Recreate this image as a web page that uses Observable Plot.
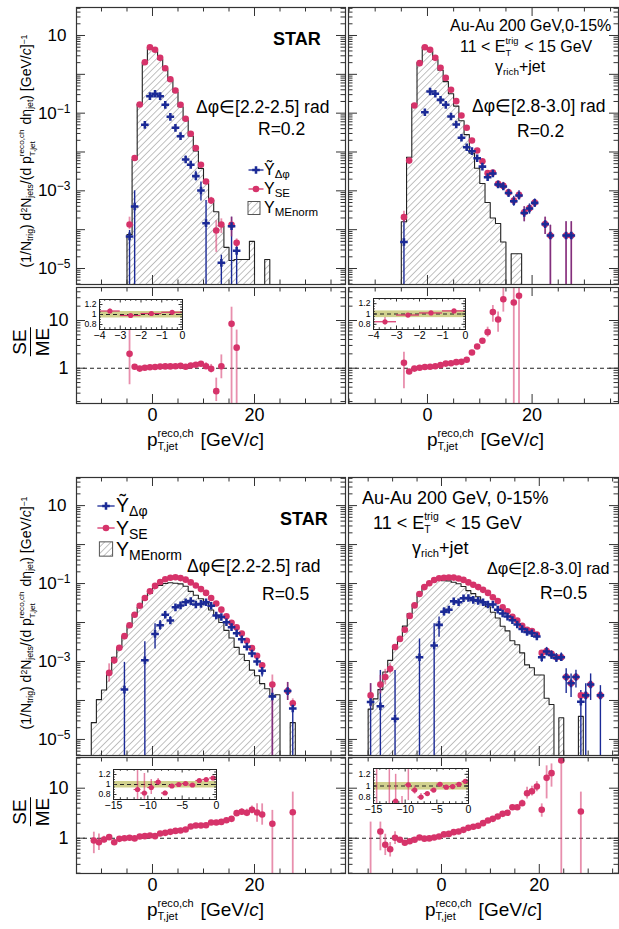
<!DOCTYPE html>
<html><head><meta charset="utf-8">
<script src="https://cdn.jsdelivr.net/npm/d3@7"></script>
<script src="https://cdn.jsdelivr.net/npm/@observablehq/plot@0.6"></script>
<style>
body{margin:0;background:#fff;}
#root{position:relative;width:619px;height:929px;overflow:hidden;font-family:'Liberation Sans',Arial,Helvetica,sans-serif;color:#000;background:#fff}
.t{position:absolute;white-space:nowrap;line-height:1;transform:translateY(-50%)}
.rot{position:absolute;white-space:nowrap;line-height:1;transform:translate(-50%,-50%) rotate(-90deg)}
.sb{font-size:.62em;line-height:0;vertical-align:-0.26em}
.lg .sb{font-size:.72em;vertical-align:-0.3em}
.sp{font-size:.62em;line-height:0;vertical-align:0.47em}
.ss{display:inline-block;position:relative;line-height:0;height:0;font-size:.58em;vertical-align:baseline}
.ss .w{visibility:hidden;padding-right:.15em}
.ss .a{position:absolute;left:0;line-height:1;white-space:nowrap}
.ss .up{top:-1.31em}
.ss .dn{top:-0.05em}
</style></head>
<body>
<svg width="0" height="0" style="position:absolute;width:0;height:0"><defs>
<pattern id="hatch" patternUnits="userSpaceOnUse" width="4.6" height="4.6" patternTransform="rotate(45)">
<line x1="0" y1="0" x2="0" y2="4.6" stroke="#5a5a5a" stroke-width="0.75"/></pattern></defs></svg>
<div id="root"></div>
<script>
// ---------------- DATA ----------------
// bins: [pT center, value, errLow, errHigh]
const SE_TL = [[-4.5,1.36e-4,1.0e-4,2.1e-4],[-3.5,7.0e-3],[-2.5,0.167],[-1.5,2.05],[-0.5,5.0],[0.5,4.28],[1.5,2.66],[2.5,1.44],[3.5,0.75],[4.5,0.384],[5.5,0.164],[6.5,0.0715],[7.5,0.0294],[8.5,0.0126],[9.5,4.7e-3],[10.5,1.74e-3],[11.5,5.6e-4,4.6e-4,6.8e-4],[12.5,9.5e-5,2.6e-5,1.7e-4],[13.5,1.36e-4,8e-5,1.9e-4],[15.5,1.33e-4,6.5e-5,2.1e-4],[16.5,4.6e-5,3.5e-5,5.8e-5]];
const YT_TL = [[-4.5,6.7e-5,1e-9,9.5e-5],[-3.5,3.95e-4,1e-9,1.0e-3],[-1.5,0.050],[-0.5,0.274],[0.5,0.315],[1.5,0.274],[2.5,0.164],[3.5,0.0805],[4.5,0.0419],[5.5,0.0256],[6.5,6.4e-3,5.2e-3,7.8e-3],[7.5,4.67e-3,3.8e-3,5.8e-3],[8.5,2.39e-3,1.8e-3,3.2e-3],[9.5,1.02e-3,5.5e-4,1.7e-3],[10.5,1.47e-4,1e-9,5.6e-4],[13.5,1.4e-5,1e-9,2.2e-5],[15.5,1.23e-4,1e-9,2.1e-4],[16.5,2.85e-5,1e-9,4e-5]];
const ME_TL = [[-4.5,7.5e-5],[-3.5,6.5e-3],[-2.5,0.172],[-1.5,2.0],[-0.5,4.8],[0.5,4.04],[1.5,2.46],[2.5,1.32],[3.5,0.69],[4.5,0.35],[5.5,0.146],[6.5,0.067],[7.5,0.0258],[8.5,0.0106],[9.5,3.77e-3],[10.5,1.58e-3],[11.5,5.8e-4],[12.5,2.9e-4],[13.5,1.24e-4],[14.5,3.5e-5],[15.5,1.6e-5],[16.5,1.7e-5],[17.5,1.7e-5],[18.5,1.7e-5],[19.5,5e-5],[20.5,0],[21.5,0],[22.5,1.7e-5]];
const R_TL = [[-4.5,2.0,0.45,6.2],[-3.5,1.07,1.03,1.11],[-2.5,0.98],[-1.5,1.02],[-0.5,1.045],[0.5,1.06],[1.5,1.08],[2.5,1.09],[3.5,1.09],[4.5,1.10],[5.5,1.12],[6.5,1.07],[7.5,1.14],[8.5,1.18],[9.5,1.24],[10.5,1.1,0.95,1.3],[11.5,0.97,0.8,1.2],[12.5,0.33,0.2,0.62],[13.5,1.1,0.6,1.9],[15.5,8.5,0.01,19],[16.5,2.7,0.01,6.3]];

const SE_TR = [[-4.5,2.1e-4,1.5e-4,3.0e-4],[-3.5,6.0e-3],[-2.5,0.157],[-1.5,1.94],[-0.5,5.0],[0.5,4.28],[1.5,2.66],[2.5,1.47],[3.5,0.81],[4.5,0.40],[5.5,0.204],[6.5,0.087],[7.5,0.042],[8.5,0.0198],[9.5,0.0109],[10.5,5.8e-3],[11.5,2.85e-3],[12.5,2.97e-3],[13.5,1.51e-3],[14.5,1.34e-3],[15.5,9.1e-4],[16.5,5.6e-4],[17.5,7.9e-4],[18.5,2.82e-4,1.6e-4,3.9e-4],[19.5,3.58e-4],[20.5,5.0e-4],[22.5,1.39e-4,7.5e-5,2.1e-4],[23.5,7.1e-5,1e-9,1.3e-4],[26.5,7.1e-5,1e-9,1.6e-4],[27.5,7.1e-5,1e-9,1.6e-4]];
const YT_TR = [[-4.5,4.8e-5,1e-9,2.1e-4],[-0.5,0.106],[0.5,0.361],[1.5,0.315],[2.5,0.22],[3.5,0.164],[4.5,0.082],[5.5,0.051],[6.5,0.0232],[7.5,0.0133],[8.5,0.0105],[9.5,6.9e-3],[10.5,4.2e-3],[11.5,2.25e-3,1.9e-3,2.7e-3],[12.5,2.8e-3,2.3e-3,3.4e-3],[13.5,1.45e-3,1.2e-3,1.8e-3],[14.5,1.3e-3,1.05e-3,1.65e-3],[15.5,8.8e-4,6.8e-4,1.1e-3],[16.5,5.4e-4,4.0e-4,7.2e-4],[17.5,7.6e-4,5.8e-4,1.0e-3],[18.5,2.7e-4,1.6e-4,3.9e-4],[19.5,3.5e-4,2.5e-4,4.6e-4],[20.5,4.9e-4,3.8e-4,6.2e-4],[22.5,1.39e-4,7.5e-5,2.1e-4],[23.5,7.1e-5,1e-9,1.3e-4],[26.5,7.1e-5,1e-9,1.6e-4],[27.5,7.1e-5,1e-9,1.6e-4]];
const ME_TR = [[-4.5,1.6e-4],[-3.5,7.3e-3],[-2.5,0.17],[-1.5,2.0],[-0.5,5.1],[0.5,4.0],[1.5,2.42],[2.5,1.27],[3.5,0.65],[4.5,0.315],[5.5,0.152],[6.5,0.064],[7.5,0.028],[8.5,9.3e-3],[9.5,3.8e-3],[10.5,1.55e-3],[11.5,5.0e-4],[12.5,2.0e-4],[13.5,1.44e-4],[14.5,4.8e-5],[15.5,0],[16.5,2.4e-5],[17.5,2.4e-5]];
const R_TR = [[-4.5,1.30,0.37,2.17],[-3.5,0.85,0.78,0.93],[-2.5,0.98],[-1.5,1.02],[-0.5,1.06],[0.5,1.07],[1.5,1.10],[2.5,1.16],[3.5,1.25],[4.5,1.27],[5.5,1.34],[6.5,1.36],[7.5,1.50],[8.5,2.13],[9.5,2.85],[10.5,3.75],[11.5,5.7,4.47,7.25],[12.5,15,9.2,20.6],[13.5,10.5,5.7,15],[14.5,28,15,80],[16.5,23.8,0.01,100],[17.5,33,0.01,100]];

const SE_BL = [[-8.5,5.1e-4,2.95e-4,8.7e-4],[-7.5,1.07e-3,8.5e-4,1.3e-3],[-6.5,2.24e-3],[-5.5,4.47e-3],[-4.5,8.5e-3],[-3.5,0.0158],[-2.5,0.0269],[-1.5,0.0427],[-0.5,0.063],[0.5,0.087],[1.5,0.110],[2.5,0.129],[3.5,0.141],[4.5,0.145],[5.5,0.138],[6.5,0.126],[7.5,0.107],[8.5,0.089],[9.5,0.072],[10.5,0.0575],[11.5,0.0427],[12.5,0.0309],[13.5,0.0214],[14.5,0.0145],[15.5,9.8e-3],[16.5,7.5e-3],[17.5,5.2e-3],[18.5,3.4e-3],[19.5,2.2e-3],[20.5,1.4e-3],[21.5,8.0e-4],[23.5,2.57e-4,1e-9,4.5e-4],[26.5,1.74e-4,1.0e-4,2.9e-4],[27.5,8.5e-5,6e-5,1.1e-4]];
const YT_BL = [[-5.5,1.9e-4,1e-9,9.5e-4],[-1.5,1.07e-3,1e-9,3.2e-3],[0.5,5.1e-3,2.1e-3,9.3e-3],[1.5,8.5e-3,6.3e-3,1.12e-2],[2.5,0.0158,0.0132,0.0188],[3.5,0.0113,0.009,0.014],[4.5,0.0245],[5.5,0.0275],[6.5,0.033],[7.5,0.0355],[8.5,0.029],[9.5,0.030],[10.5,0.033],[11.5,0.027],[12.5,0.0151],[13.5,0.0138],[14.5,0.0102],[15.5,7.6e-3],[16.5,5.3e-3],[17.5,3.7e-3],[18.5,2.4e-3],[19.5,1.6e-3],[20.5,1.0e-3,7.5e-4,1.35e-3],[21.5,5.8e-4,4e-4,8e-4],[23.5,1.26e-4,1e-9,2.2e-4],[26.5,1.74e-4,1.0e-4,2.9e-4],[27.5,6.2e-5,1e-9,1.0e-4]];
const ME_BL = [[-11.5,2.7e-5],[-10.5,1.05e-4],[-9.5,1.86e-4],[-8.5,4.9e-4],[-7.5,1.29e-3],[-6.5,2.29e-3],[-5.5,4.47e-3],[-4.5,8.3e-3],[-3.5,0.0162],[-2.5,0.0251],[-1.5,0.0389],[-0.5,0.0562],[0.5,0.0794],[1.5,0.089],[2.5,0.100],[3.5,0.105],[4.5,0.102],[5.5,0.098],[6.5,0.085],[7.5,0.063],[8.5,0.050],[9.5,0.0407],[10.5,0.0316],[11.5,0.0209],[12.5,0.0151],[13.5,0.0100],[14.5,6.3e-3],[15.5,4.0e-3],[16.5,2.3e-3],[17.5,1.54e-3],[18.5,1.06e-3],[19.5,6.0e-4],[20.5,4.3e-4],[21.5,2.7e-4],[22.5,2.0e-4],[23.5,1.32e-4],[24.5,1.4e-4],[25.5,0],[26.5,0],[27.5,2.7e-5]];
const R_BL = [[-11.5,0.90,0.49,1.32],[-10.5,0.83,0.57,1.22],[-9.5,0.94,0.8,1.1],[-8.5,1.05,0.99,1.12],[-7.5,0.83,0.79,0.87],[-6.5,0.97],[-5.5,1.0],[-4.5,1.02],[-3.5,0.99],[-2.5,1.08],[-1.5,1.10],[-0.5,1.13],[0.5,1.10],[1.5,1.24],[2.5,1.28],[3.5,1.34],[4.5,1.40],[5.5,1.43],[6.5,1.49],[7.5,1.71],[8.5,1.79],[9.5,1.79],[10.5,1.82],[11.5,2.06],[12.5,2.06],[13.5,2.12],[14.5,2.29],[15.5,2.44],[16.5,3.17,2.8,3.6],[17.5,3.37,2.9,3.9],[18.5,3.22,2.7,3.8],[19.5,3.69,3.1,4.4],[20.5,3.27,2.09,4.86],[21.5,2.98,1.82,4.86],[23.5,1.94,0.01,3.6],[27.5,3.31,0.01,8.35]];

const SE_BR = [[-14.5,1.35e-4,6.8e-5,2.7e-4],[-12.5,2.57e-4,1.48e-4,4.4e-4],[-11.5,4.0e-4,2.5e-4,6.3e-4],[-10.5,6.5e-4,4.8e-4,8.7e-4],[-9.5,2.34e-3],[-8.5,3.8e-3],[-7.5,6.5e-3],[-6.5,0.0148],[-5.5,0.0275],[-4.5,0.054],[-3.5,0.081],[-2.5,0.102],[-1.5,0.123],[-0.5,0.137],[0.5,0.141],[1.5,0.143],[2.5,0.142],[3.5,0.135],[4.5,0.124],[5.5,0.107],[6.5,0.093],[7.5,0.081],[8.5,0.069],[9.5,0.0575],[10.5,0.0447],[11.5,0.0355],[12.5,0.0245],[13.5,0.0195],[14.5,0.0141],[15.5,0.0112],[16.5,8.3e-3],[17.5,6.5e-3],[18.5,6.0e-3],[19.5,4.9e-3],[20.5,1.66e-3],[21.5,1.84e-3],[22.5,1.58e-3],[23.5,1.29e-3],[24.5,1.29e-3],[25.5,4.0e-4],[26.5,2.75e-4],[27.5,4.0e-4],[28.5,1.35e-4],[29.5,1.35e-4],[30.5,2.57e-4],[32.5,1.35e-4]];
const YT_BR = [[-14.5,9.1e-5,1e-9,2.7e-4],[-12.5,7.1e-5,1e-9,5.9e-4],[-9.5,3.4e-5,1e-9,5.9e-4],[-4.5,1.29e-3,1e-9,3.8e-3],[-1.5,2.57e-3,1e-9,9.3e-3],[-0.5,8.7e-3,4.2e-3,0.0138],[0.5,0.019,0.015,0.024],[1.5,0.0214],[2.5,0.035],[3.5,0.033],[4.5,0.042],[5.5,0.0425],[6.5,0.038],[7.5,0.036],[8.5,0.033],[9.5,0.029],[10.5,0.029],[11.5,0.0214],[12.5,0.017],[13.5,0.0142],[14.5,0.0115],[15.5,8.9e-3],[16.5,6.8e-3],[17.5,5.7e-3],[18.5,5.3e-3],[19.5,4.4e-3],[20.5,1.29e-3,9.5e-4,1.7e-3],[21.5,1.8e-3,1.4e-3,2.3e-3],[22.5,1.48e-3,1.15e-3,1.9e-3],[23.5,1.23e-3,9.5e-4,1.6e-3],[24.5,1.29e-3,1.0e-3,1.65e-3],[25.5,4.0e-4,1.5e-4,6.5e-4],[26.5,2.75e-4,1.2e-4,4.8e-4],[27.5,4.0e-4,2.1e-4,6.0e-4],[28.5,9.3e-5,1e-9,1.8e-4],[29.5,1.35e-4,1e-9,2.7e-4],[30.5,2.57e-4,1e-4,4.8e-4],[32.5,1.35e-4,1e-9,2.4e-4]];
const ME_BR = [[-14.5,6e-5],[-13.5,1.1e-4],[-12.5,1.9e-4],[-11.5,5.4e-4],[-10.5,1.07e-3],[-9.5,2.34e-3],[-8.5,4.1e-3],[-7.5,8.1e-3],[-6.5,0.017],[-5.5,0.0295],[-4.5,0.055],[-3.5,0.085],[-2.5,0.105],[-1.5,0.120],[-0.5,0.127],[0.5,0.118],[1.5,0.117],[2.5,0.108],[3.5,0.099],[4.5,0.084],[5.5,0.066],[6.5,0.055],[7.5,0.046],[8.5,0.0345],[9.5,0.0254],[10.5,0.0183],[11.5,0.0131],[12.5,8.0e-3],[13.5,6.1e-3],[14.5,3.4e-3],[15.5,2.7e-3],[16.5,1.66e-3],[17.5,8.2e-4],[18.5,6.9e-4],[19.5,4.5e-4],[20.5,4.5e-4],[21.5,1.14e-4],[22.5,7.9e-5],[23.5,0],[24.5,3.6e-5],[25.5,0],[26.5,0],[27.5,0],[28.5,3.9e-5]];
const R_BR = [[-14.5,0.1,0.01,2.1],[-12.5,1.36,0.56,2.1],[-11.5,0.74,0.45,1.2],[-10.5,0.60,0.42,0.82],[-9.5,1.02,0.75,1.35],[-8.5,0.93,0.86,1.0],[-7.5,0.81,0.76,0.87],[-6.5,0.87],[-5.5,0.93],[-4.5,1.03],[-3.5,0.98],[-2.5,0.99],[-1.5,1.03],[-0.5,1.08],[0.5,1.19],[1.5,1.22],[2.5,1.32],[3.5,1.36],[4.5,1.47],[5.5,1.61],[6.5,1.69],[7.5,1.77],[8.5,2.0],[9.5,2.26],[10.5,2.44],[11.5,2.72],[12.5,3.07],[13.5,3.22],[14.5,4.17],[15.5,4.17],[16.5,5.0,4.3,5.8],[17.5,7.95,6.1,10.5],[18.5,8.7,7.0,11],[19.5,10.8,8.5,13.5],[20.5,3.7,2.63,4.86],[21.5,16.1,6.1,28],[22.5,20,10.5,30.6],[24.5,35.8,0.01,100],[28.5,3.42,0.01,8.35]];

// systematic band of the insets
const BAND = [0.93, 1.06];
// tick labels
const MAIN_Y_LABELS = [10, 1e-1, 1e-3, 1e-5];
const RATIO_Y_LABELS = [1, 10];
const X_LABELS = [0, 20];
const INSET_Y_LABELS = [0.8, 1, 1.2];
const INSET_X_LABELS_R02 = [-4, -3, -2, -1, 0];
const INSET_X_LABELS_R05 = [-15, -10, -5, 0];

// ---------------- STYLE ----------------
const FONT = "'Liberation Sans', Arial, Helvetica, sans-serif";
const BLUE = "#1b2a96", PINK = "#d6336a";
const NS = "http://www.w3.org/2000/svg";
const root = document.getElementById("root");

function place(svg, left, top) {
  svg.style.position = "absolute"; svg.style.left = left + "px"; svg.style.top = top + "px";
  svg.style.background = "transparent"; svg.style.overflow = "visible";
  svg.style.fontFamily = FONT; svg.style.maxWidth = "none";
  root.appendChild(svg);
}
function inDom(vals, dom) { const a = Math.min(...dom), b = Math.max(...dom); return vals.filter(v => v >= a && v <= b); }
function logTicks(dom) {
  const maj = [], min = [];
  for (let e = -8; e <= 3; e++) for (let m = 1; m <= 9; m++) {
    const v = m * Math.pow(10, e);
    if (v >= dom[0] && v <= dom[1]) (m === 1 ? maj : min).push(v);
  }
  return {maj, min};
}
function mkTicks(fw, fh, xMaj, xMin, yMaj, yMin, maj, min) {
  const s = {stroke: "#333", strokeWidth: 1};
  const out = [];
  const add = (vals, L, isX) => {
    if (!vals.length) return;
    if (isX) {
      out.push(Plot.tickX(vals, {x: d => d, insetTop: fh - L, ...s}));
      out.push(Plot.tickX(vals, {x: d => d, insetBottom: fh - L, ...s}));
    } else {
      out.push(Plot.tickY(vals, {y: d => d, insetRight: fw - L, ...s}));
      out.push(Plot.tickY(vals, {y: d => d, insetLeft: fw - L, ...s}));
    }
  };
  add(xMaj, maj, true); add(xMin, min, true); add(yMaj, maj, false); add(yMin, min, false);
  return out;
}
const X_MINOR = [-15, -10, -5, 5, 10, 15, 25, 30, 35];
function expFmt(d) { const e = Math.round(Math.log10(d)); return e === 1 ? "10" : "10^" + (e < 0 ? "\u2212" + (-e) : String(e)); }
function supExp(svg) {
  svg.querySelectorAll("text").forEach(t => {
    const s = t.textContent; const i = s.indexOf("^");
    if (i > 0) {
      t.textContent = s.slice(0, i);
      const ts = document.createElementNS(NS, "tspan");
      ts.setAttribute("dy", "-0.5em"); ts.setAttribute("font-size", "12"); ts.textContent = s.slice(i + 1);
      t.appendChild(ts);
    } else if (s === "10" && t.closest('[aria-label="y-axis tick label"]')) {
      t.setAttribute("dx", "-4");
    }
  });
}

function mainPanel(o) {
  const fw = o.w - o.mL - o.mR, fh = o.h - o.mT - o.mB;
  const floor = o.yDom[0] / 10;
  const val = d => d[1] > 0 ? d[1] : floor;
  const last = o.me[o.me.length - 1];
  const edges = [{x: o.me[0][0] - 0.5, v: floor}, ...o.me.map(d => ({x: d[0] - 0.5, v: val(d)})),
                 {x: last[0] + 0.5, v: val(last)}, {x: last[0] + 0.5, v: floor}];
  const lt = logTicks(o.yDom);
  const marks = [
    Plot.area(edges, {x1: "x", y1: () => floor, y2: "v", curve: "step-after", fill: "url(#hatch)", clip: true}),
    Plot.line(edges, {x: "x", y: "v", curve: "step-after", stroke: "#222", strokeWidth: 1.1, clip: true}),
    Plot.ruleX(o.blue.filter(d => d.length > 2), {x: d => d[0], y1: d => d[2], y2: d => d[3], stroke: BLUE, strokeWidth: 1.4, clip: true}),
    Plot.ruleX(o.se.filter(d => d.length > 2), {x: d => d[0], y1: d => d[2], y2: d => d[3], stroke: PINK, strokeOpacity: 0.55, strokeWidth: 1.8, clip: true}),
    Plot.dot(o.se, {x: d => d[0], y: d => d[1], r: 3.3, fill: PINK, clip: true}),
    Plot.dot(o.blue, {x: d => d[0], y: d => d[1], r: 3.2, symbol: "cross", fill: BLUE, clip: true}),
    ...mkTicks(fw, fh, inDom(X_LABELS, o.xDom), inDom(X_MINOR, o.xDom), lt.maj, lt.min, 9, 4.5),
    Plot.frame({stroke: "#333", strokeWidth: 1.2})
  ];
  if (o.yLabels) marks.push(Plot.axisY(MAIN_Y_LABELS, {tickSize: 0, tickPadding: 6, fontSize: 17, label: null, tickFormat: expFmt}));
  const svg = Plot.plot({width: o.w, height: o.h, marginLeft: o.mL, marginRight: o.mR, marginTop: o.mT, marginBottom: o.mB,
    x: {domain: o.xDom, axis: null}, y: {type: "log", domain: o.yDom, axis: null}, marks});
  supExp(svg);
  place(svg, o.left, o.top);
}

function ratioPanel(o) {
  const fw = o.w - o.mL - o.mR, fh = o.h - o.mT - o.mB;
  const lt = logTicks(o.yDom);
  const marks = [
    Plot.ruleY([1], {stroke: "#222", strokeDasharray: "4,3", strokeWidth: 1.1}),
    Plot.ruleX(o.ratio.filter(d => d.length > 2), {x: d => d[0], y1: d => d[2], y2: d => d[3], stroke: PINK, strokeOpacity: 0.55, strokeWidth: 1.8, clip: true}),
    Plot.dot(o.ratio, {x: d => d[0], y: d => d[1], r: 3.3, fill: PINK, clip: true}),
    ...mkTicks(fw, fh, inDom(X_LABELS, o.xDom), inDom(X_MINOR, o.xDom), lt.maj, lt.min, 9, 4.5),
    Plot.frame({stroke: "#333", strokeWidth: 1.2}),
    Plot.axisX(X_LABELS, {tickSize: 0, tickPadding: 5, fontSize: 18, label: null, tickFormat: d => String(d)})
  ];
  if (o.yLabels) marks.push(Plot.axisY(RATIO_Y_LABELS, {tickSize: 0, tickPadding: 8, fontSize: 18, label: null, tickFormat: d => String(d)}));
  const svg = Plot.plot({width: o.w, height: o.h, marginLeft: o.mL, marginRight: o.mR, marginTop: o.mT, marginBottom: o.mB,
    x: {domain: o.xDom, axis: null}, y: {type: "log", domain: o.yDom, axis: null}, marks});
  place(svg, o.left, o.top);
}

function insetPanel(o) {
  const fw = o.w - o.mL - o.mR, fh = o.h - o.mT - o.mB;
  const pts = o.ratio.filter(d => d[0] > o.xDom[0] && d[0] < o.xDom[1]);
  const yMin = d3.range(0.7, 1.3001, 0.05).map(v => +v.toFixed(2));
  const marks = [
    Plot.frame({fill: "white", stroke: null}),
    Plot.rect([BAND], {x1: () => o.xDom[0], x2: () => o.xDom[1], y1: d => d[0], y2: d => d[1], fill: "#c9c97a", fillOpacity: 0.85}),
    Plot.ruleY([1], {stroke: "#222", strokeDasharray: "4,3", strokeWidth: 1}),
    Plot.ruleY(pts, {y: d => d[1], x1: d => d[0] - 0.5, x2: d => d[0] + 0.5, stroke: PINK, strokeWidth: 1.2, clip: true}),
    Plot.ruleX(pts.filter(d => d.length > 2), {x: d => d[0], y1: d => d[2], y2: d => d[3], stroke: PINK, strokeOpacity: 0.6, strokeWidth: 1.5, clip: true}),
    Plot.dot(pts, {x: d => d[0], y: d => d[1], r: 2.6, fill: PINK, clip: true}),
    ...mkTicks(fw, fh, o.xLabels, o.xMinor, INSET_Y_LABELS, yMin, 3.5, 1.8),
    Plot.frame({stroke: "#222", strokeWidth: 1}),
    Plot.axisY(INSET_Y_LABELS, {tickSize: 0, tickPadding: 3, fontSize: 8.6, label: null, tickFormat: d => String(d)}),
    Plot.axisX(o.xLabels, {tickSize: 0, tickPadding: 2, fontSize: 10.5, label: null, tickFormat: d => d < 0 ? "\u2212" + (-d) : String(d)})
  ];
  const svg = Plot.plot({width: o.w, height: o.h, marginLeft: o.mL, marginRight: o.mR, marginTop: o.mT, marginBottom: o.mB,
    x: {domain: o.xDom, axis: null}, y: {domain: [0.7, 1.3], axis: null}, marks});
  place(svg, o.left, o.top);
}

// ---------------- PANELS ----------------
const Y_MAIN = [Math.pow(10, -5.412), Math.pow(10, 1.721)];
const X_LEFT = [-14.9, 37.84], X_TR = [-15.1, 36.52], X_BR = [-19.02, 36.2];

mainPanel({left: 0, top: 0, w: 345, h: 285, mL: 76, mR: 0, mT: 7, mB: 1, xDom: X_LEFT, yDom: Y_MAIN, me: ME_TL, se: SE_TL, blue: YT_TL, yLabels: true});
mainPanel({left: 348, top: 0, w: 271, h: 285, mL: 0, mR: 1, mT: 7, mB: 1, xDom: X_TR, yDom: Y_MAIN, me: ME_TR, se: SE_TR, blue: YT_TR, yLabels: false});
mainPanel({left: 0, top: 470, w: 345, h: 286, mL: 76, mR: 0, mT: 7, mB: 1, xDom: X_LEFT, yDom: Y_MAIN, me: ME_BL, se: SE_BL, blue: YT_BL, yLabels: true});
mainPanel({left: 348, top: 470, w: 271, h: 286, mL: 0, mR: 1, mT: 7, mB: 1, xDom: X_BR, yDom: Y_MAIN, me: ME_BR, se: SE_BR, blue: YT_BR, yLabels: false});

const Y_RT = [Math.pow(10, -0.74), Math.pow(10, 1.692)];
const Y_RB = [Math.pow(10, -0.706), Math.pow(10, 1.614)];
ratioPanel({left: 0, top: 286, w: 345, h: 139, mL: 76, mR: 0, mT: 1, mB: 22, xDom: X_LEFT, yDom: Y_RT, ratio: R_TL, yLabels: true});
ratioPanel({left: 348, top: 286, w: 271, h: 139, mL: 0, mR: 1, mT: 1, mB: 22, xDom: X_TR, yDom: Y_RT, ratio: R_TR, yLabels: false});
ratioPanel({left: 0, top: 756, w: 345, h: 139, mL: 76, mR: 0, mT: 1, mB: 22, xDom: X_LEFT, yDom: Y_RB, ratio: R_BL, yLabels: true});
ratioPanel({left: 348, top: 756, w: 271, h: 139, mL: 0, mR: 1, mT: 1, mB: 22, xDom: X_BR, yDom: Y_RB, ratio: R_BR, yLabels: false});

const MIN_A = d3.range(-4, 0.01, 0.25).filter(v => !Number.isInteger(v));
const MIN_B = d3.range(-15, 0.5, 1).filter(v => v % 5 !== 0);
insetPanel({left: 77, top: 297, w: 108, h: 46, mL: 22, mR: 3, mT: 2, mB: 14, xDom: [-4, 0], ratio: R_TL, xLabels: INSET_X_LABELS_R02, xMinor: MIN_A});
insetPanel({left: 351, top: 296, w: 117, h: 47, mL: 22, mR: 3, mT: 2, mB: 14, xDom: [-4, 0], ratio: R_TR, xLabels: INSET_X_LABELS_R02, xMinor: MIN_A});
insetPanel({left: 91, top: 767, w: 128, h: 46, mL: 22, mR: 3, mT: 2, mB: 14, xDom: [-15, 0], ratio: R_BL, xLabels: INSET_X_LABELS_R05, xMinor: MIN_B});
insetPanel({left: 351, top: 766, w: 120, h: 51, mL: 22, mR: 3, mT: 2, mB: 14, xDom: [-15, 0], ratio: R_BR, xLabels: INSET_X_LABELS_R05, xMinor: MIN_B});

// ---------------- TEXT ----------------
function T(html, x, cy, size, extra, cls) {
  const d = document.createElement("div");
  d.className = "t" + (cls ? " " + cls : ""); d.style.left = x + "px"; d.style.top = cy + "px"; d.style.fontSize = size + "px";
  if (extra) d.style.cssText += extra;
  d.innerHTML = html; root.appendChild(d);
}
function R(html, x, cy, size) {
  const d = document.createElement("div");
  d.className = "rot"; d.style.left = x + "px"; d.style.top = cy + "px"; d.style.fontSize = size + "px";
  d.innerHTML = html; root.appendChild(d);
}
const SS = (up, dn) => `<span class="ss"><span class="w">${up.length >= dn.length ? up : dn}</span><span class="a up">${up}</span><span class="a dn">${dn}</span></span>`;
const sb = s => `<span class="sb">${s}</span>`;
const sp = s => `<span class="sp">${s}</span>`;

function swatch(kind, cx, cy, k) {
  k = k || 1;
  const s = document.createElementNS(NS, "svg");
  s.setAttribute("width", 24); s.setAttribute("height", 20);
  s.style.cssText = `position:absolute;left:${cx - 12}px;top:${cy - 10}px;overflow:visible`;
  if (kind === "box") {
    s.innerHTML = `<rect x="${12 - 6 * k}" y="${10 - 6.5 * k}" width="${12 * k}" height="${13 * k}" fill="url(#hatch)" stroke="#555" stroke-width="1"/>`;
  } else {
    const col = kind === "blue" ? BLUE : PINK;
    const sym = kind === "blue" ? d3.symbol(d3.symbolCross, 3.2 * 3.2 * Math.PI)() : d3.symbol(d3.symbolCircle, 3.3 * 3.3 * Math.PI)();
    s.innerHTML = `<line x1="${12 - 7.5 * k}" x2="${12 + 7.5 * k}" y1="10" y2="10" stroke="${col}" stroke-width="1.3"/><path transform="translate(12,10)" d="${sym}" fill="${col}"/>`;
  }
  root.appendChild(s);
}

const YTITLE = `(1/N${sb("trig")}) d${sp("2")}N${sb("jets")}/(d p${SS("reco,ch", "T,jet")} d\u03b7${sb("jet")}) [GeV/<i>c</i>]${sp("\u22121")}`;
R(YTITLE, 26, 151, 14);
R(YTITLE, 26, 613, 14);
const FRAC = `<span style="display:inline-block;text-align:center;line-height:1"><span style="display:block;border-bottom:1.5px solid #000;padding:0 1px 1px">SE</span><span style="display:block;padding-top:2px">ME</span></span>`;
R(FRAC, 31, 342, 19);
R(FRAC, 31, 812, 19);

const XTITLE = `p${SS("reco,ch", "T,jet")} [GeV/<i>c</i>]`;
T(XTITLE, 147, 439, 19);
T(XTITLE, 427, 439, 19);
T(XTITLE, 147, 909, 19);
T(XTITLE, 425, 909, 19);

// top-left
T("STAR", 273, 38.5, 18, "font-weight:bold");
T("\u0394\u03c6\u2208[2.2-2.5] rad", 196, 108, 17.5);
T("R=0.2", 258, 129.5, 17.5);
swatch("blue", 256, 170); T("\u1ef8" + sb("\u0394\u03c6"), 264, 170, 16, "", "lg");
swatch("pink", 256, 189); T("Y" + sb("SE"), 264, 189, 16, "", "lg");
swatch("box", 254, 208); T("Y" + sb("MEnorm"), 264, 208, 16, "", "lg");
// top-right
T("Au-Au 200 GeV,0-15%", 450, 26, 16);
T("11 &lt; E" + SS("trig", "T") + " &lt; 15 GeV", 460, 47, 16);
T("\u03b3" + sb("rich") + "+jet", 495, 67, 16);
T("\u0394\u03c6\u2208[2.8-3.0] rad", 472, 107, 17.5);
T("R=0.2", 517, 132, 17.5);
// bottom-left
swatch("blue", 106, 506, 1.15); T("\u1ef8" + sb("\u0394\u03c6"), 116, 506, 19.5, "", "lg");
swatch("pink", 106, 528, 1.15); T("Y" + sb("SE"), 116, 529, 19.5, "", "lg");
swatch("box", 106, 549, 1.1); T("Y" + sb("MEnorm"), 116, 550, 19.5, "", "lg");
T("STAR", 280, 519, 18, "font-weight:bold");
T("\u0394\u03c6\u2208[2.2-2.5] rad", 187, 567, 17.5);
T("R=0.5", 262, 595, 17.5);
// bottom-right
T("Au-Au 200 GeV, 0-15%", 362, 497.5, 18);
T("11 &lt; E" + SS("trig", "T") + " &lt; 15 GeV", 373, 522.5, 18);
T("\u03b3" + sb("rich") + "+jet", 412, 548, 18);
T("\u0394\u03c6\u2208[2.8-3.0] rad", 487, 567.5, 16.2);
T("R=0.5", 540, 594, 17.5);
</script>
</body></html>
